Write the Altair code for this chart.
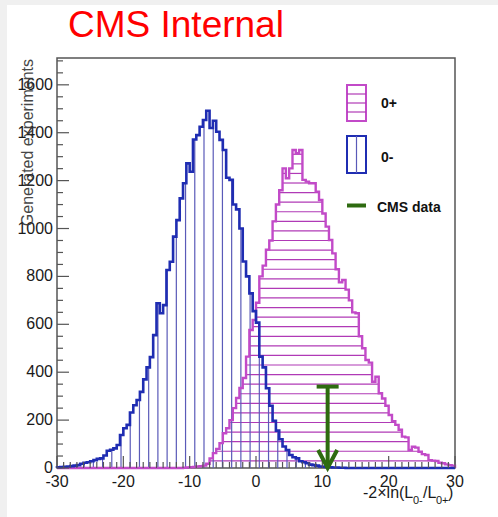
import altair as alt
import pandas as pd
import numpy as np

# ---------------- data ----------------
X_MIN, X_MAX = -30.0, 30.0
BIN_W = 0.5
Y_MAX = 1712

# 0- hypothesis (blue), bins of 0.5 starting at -30
blue_nonzero = [
    3, 4, 5, 6, 8, 10, 12, 18, 22, 24,
    28, 33, 38, 40, 52, 72, 76, 82, 96, 138,
    166, 180, 232, 262, 284, 318, 370, 420, 463, 555,
    688, 646, 680, 827, 861, 966, 1035, 1126, 1189, 1272,
    1237, 1372, 1390, 1425, 1453, 1492, 1420, 1450, 1404, 1370,
    1328, 1212, 1203, 1100, 1080, 1000, 862, 800, 729, 655,
    607, 465, 420, 333, 260, 197, 156, 120, 90, 75,
    54, 45, 40, 28, 24, 20, 14, 12, 10, 6,
    5, 4, 3, 2, 2, 1, 1,
]
blue_counts = blue_nonzero + [0] * (120 - len(blue_nonzero))

# 0+ hypothesis (magenta), first non-empty bin starts at -11
magenta_nonzero = [
    1, 2, 3, 4, 6, 7, 10, 18, 40, 62,
    80, 104, 145, 166, 200, 250, 292, 334, 376, 465,
    576, 618, 690, 800, 845, 912, 950, 1030, 1100, 1160,
    1251, 1210, 1251, 1328, 1314, 1328, 1203, 1196, 1189, 1189,
    1154, 1119, 1063, 1008, 952, 896, 830, 775, 785, 745,
    700, 650, 646, 550, 500, 451, 440, 360, 381, 312,
    290, 260, 221, 195, 180, 160, 131, 128, 75, 89,
    85, 68, 58, 54, 33, 31, 29, 22, 20, 15,
    12, 10,
]
magenta_counts = [0] * (120 - len(magenta_nonzero)) + magenta_nonzero

cms_x = [10.8]
cms_top = [340]

x_tick_labels = [-30, -20, -10, 0, 10, 20, 30]
y_tick_labels = [0, 200, 400, 600, 800, 1000, 1200, 1400, 1600]

# ---------------- style ----------------
W, H = 398, 410
BLUE = "#1f2db2"
BLUE_HATCH = "#5a5ab8"
MAG = "#c24ac8"
MAG_HATCH = "#b03ab6"
GREEN = "#2e6b10"
FRAME = "#555555"
FONT = "Liberation Sans"
HATCH_DX = 1.39      # spacing of vertical hatch lines (x units)
HATCH_DY = 40        # spacing of horizontal hatch lines (y units)

edges = X_MIN + BIN_W * np.arange(len(blue_counts) + 1)

xscale = alt.Scale(domain=[X_MIN, X_MAX], nice=False, zero=False)
yscale = alt.Scale(domain=[0, Y_MAX], nice=False, zero=True)


def outline(counts):
    xs, ys = [X_MIN], [0]
    for i, c in enumerate(counts):
        xs += [float(edges[i]), float(edges[i + 1])]
        ys += [c, c]
    xs.append(X_MAX)
    ys.append(0)
    return pd.DataFrame({"x": xs, "y": ys, "o": list(range(len(xs)))})


def v_hatch(counts):
    start = -0.89 - HATCH_DX * 22
    hx = np.arange(start, X_MAX, HATCH_DX)
    rows = []
    for x in hx:
        if x <= X_MIN or x >= X_MAX:
            continue
        i = int((x - X_MIN) // BIN_W)
        if counts[i] > 0:
            rows.append({"x": float(x), "top": counts[i], "bot": 0})
    return pd.DataFrame(rows)


def h_hatch(counts):
    rows = []
    lvl = 30
    while lvl < max(counts):
        run = None
        for i, c in enumerate(counts + [0]):
            if c >= lvl and run is None:
                run = i
            elif c < lvl and run is not None:
                rows.append({"x0": float(edges[run]), "x1": float(edges[i]), "y": lvl})
                run = None
        lvl += HATCH_DY
    return pd.DataFrame(rows)


one = pd.DataFrame({"a": [0]})
layers = []

# background strips of the slide
layers.append(alt.Chart(one).mark_rect(color="#f0f0f0").encode(
    x=alt.value(-57), x2=alt.value(-50), y=alt.value(-58), y2=alt.value(459)))
layers.append(alt.Chart(one).mark_rect(color="#f0f0f0").encode(
    x=alt.value(-57), x2=alt.value(441), y=alt.value(-58), y2=alt.value(-53)))

# hatching
layers.append(alt.Chart(h_hatch(magenta_counts)).mark_rule(
    color=MAG_HATCH, strokeWidth=1.2).encode(
    x=alt.X("x0:Q", scale=xscale, axis=None), x2="x1:Q",
    y=alt.Y("y:Q", scale=yscale, axis=None)))

layers.append(alt.Chart(v_hatch(blue_counts)).mark_rule(
    color=BLUE_HATCH, strokeWidth=1.2).encode(
    x=alt.X("x:Q", scale=xscale, axis=None),
    y=alt.Y("top:Q", scale=yscale, axis=None), y2="bot:Q"))

# outlines
layers.append(alt.Chart(outline(magenta_counts)).mark_line(
    color=MAG, strokeWidth=2.4, strokeJoin="miter").encode(
    x=alt.X("x:Q", scale=xscale, axis=None),
    y=alt.Y("y:Q", scale=yscale, axis=None),
    order="o:Q"))

layers.append(alt.Chart(outline(blue_counts)).mark_line(
    color=BLUE, strokeWidth=2.6, strokeJoin="miter").encode(
    x=alt.X("x:Q", scale=xscale, axis=None),
    y=alt.Y("y:Q", scale=yscale, axis=None),
    order="o:Q"))

# ticks pointing inward
xt_major = pd.DataFrame({"t": x_tick_labels})
xt_minor = pd.DataFrame({"t": [v for v in range(-29, 30) if v % 10 != 0]})
yt_major = pd.DataFrame({"t": y_tick_labels})
yt_minor = pd.DataFrame({"t": [v for v in range(50, 1712, 50) if v % 200 != 0]})
xl = pd.DataFrame({"xv": x_tick_labels, "xlab": [str(v) for v in x_tick_labels]})
yl = pd.DataFrame({"yv": y_tick_labels, "ylab": [str(v) for v in y_tick_labels]})

layers.append(alt.Chart(xt_major).mark_rule(color=FRAME, strokeWidth=1.2).encode(
    x=alt.X("t:Q", scale=xscale, axis=None), y=alt.value(H), y2=alt.value(H - 12)))
layers.append(alt.Chart(xt_minor).mark_rule(color=FRAME, strokeWidth=1.2).encode(
    x=alt.X("t:Q", scale=xscale, axis=None), y=alt.value(H), y2=alt.value(H - 6)))
layers.append(alt.Chart(yt_major).mark_rule(color=FRAME, strokeWidth=1.2).encode(
    y=alt.Y("t:Q", scale=yscale, axis=None), x=alt.value(0), x2=alt.value(12)))
layers.append(alt.Chart(yt_minor).mark_rule(color=FRAME, strokeWidth=1.2).encode(
    y=alt.Y("t:Q", scale=yscale, axis=None), x=alt.value(0), x2=alt.value(6)))

# tick labels
layers.append(alt.Chart(xl).mark_text(font=FONT, fontSize=16, color="#1a1a1a",
                                      align="center", baseline="top").encode(
    x=alt.X("xv:Q", scale=xscale, axis=None), y=alt.value(H + 6),
    text=alt.Text("xlab:N")))
layers.append(alt.Chart(yl).mark_text(font=FONT, fontSize=16, color="#1a1a1a",
                                      align="right", baseline="middle").encode(
    y=alt.Y("yv:Q", scale=yscale, axis=None), x=alt.value(-4),
    text=alt.Text("ylab:N")))

# CMS data arrow
cms = pd.DataFrame({"x": cms_x, "top": cms_top, "bot": [0]})
layers.append(alt.Chart(cms).mark_rule(color=GREEN, strokeWidth=4).encode(
    x=alt.X("x:Q", scale=xscale, axis=None),
    y=alt.Y("top:Q", scale=yscale, axis=None), y2="bot:Q"))
layers.append(alt.Chart(cms).mark_point(shape="M -1 0 L 1 0", size=484, filled=False,
                                        stroke=GREEN, strokeWidth=4, opacity=1).encode(
    x=alt.X("x:Q", scale=xscale, axis=None),
    y=alt.Y("top:Q", scale=yscale, axis=None)))
layers.append(alt.Chart(cms).mark_point(shape="M -1 -1.9 L 0 0 L 1 -1.9", size=361,
                                        filled=False, stroke=GREEN, strokeWidth=4,
                                        opacity=1, strokeJoin="miter").encode(
    x=alt.X("x:Q", scale=xscale, axis=None),
    y=alt.Y("bot:Q", scale=yscale, axis=None)))


def rect(x0, x1, y0, y1, color):
    return alt.Chart(one).mark_rect(fill="white", stroke=color, strokeWidth=2).encode(
        x=alt.value(x0), x2=alt.value(x1), y=alt.value(y0), y2=alt.value(y1))


def hline(x0, x1, y, color, w=1.2):
    return alt.Chart(one).mark_rule(color=color, strokeWidth=w).encode(
        x=alt.value(x0), x2=alt.value(x1), y=alt.value(y))


def vline(x, y0, y1, color, w=1.2):
    return alt.Chart(one).mark_rule(color=color, strokeWidth=w).encode(
        x=alt.value(x), y=alt.value(y0), y2=alt.value(y1))


def text(s, x, y, size, color="#111111", weight="normal", align="left",
         baseline="alphabetic", angle=0, opacity=1.0):
    kw = dict(font=FONT, fontSize=size, color=color, fontWeight=weight,
              align=align, baseline=baseline, opacity=opacity)
    if angle:
        kw["angle"] = angle
    return alt.Chart(one).mark_text(**kw).encode(
        x=alt.value(x), y=alt.value(y), text=alt.value(s))


# legend
layers += [
    rect(290, 309, 27, 63, MAG),
    hline(290, 309, 36, MAG_HATCH), hline(290, 309, 45, MAG_HATCH), hline(290, 309, 54, MAG_HATCH),
    rect(290, 309, 78, 115, BLUE),
    vline(299.5, 78, 115, BLUE_HATCH),
    hline(290, 309, 147.5, GREEN, 4),
    text("0+", 324, 50, 14, weight="bold"),
    text("0-", 324, 104, 14, weight="bold"),
    text("CMS data", 320, 154, 14, weight="bold"),
]

# titles
layers += [
    text("CMS Internal", 11, -21, 37, color="#ff0000"),
    text("Generated experiments", -29, 1, 16, color="#333333", align="right",
         baseline="middle", angle=270, opacity=0.9),
    text("-2\u00d7ln(L", 306, 440, 16, color="#1a1a1a"),
    text("0-", 356, 446, 11, color="#1a1a1a"),
    text("/L", 366, 440, 16, color="#1a1a1a"),
    text("0+", 379, 446, 11, color="#1a1a1a"),
    text(")", 391, 440, 16, color="#1a1a1a"),
]

chart = alt.layer(*layers).properties(
    width=W, height=H,
    padding={"left": 57, "top": 58, "right": 43, "bottom": 49},
    autosize=alt.AutoSizeParams(type="none"),
    background="white",
).configure_view(stroke=FRAME, strokeWidth=1.5)

chart.save("out.html", embed_options={"renderer": "svg", "actions": False})
